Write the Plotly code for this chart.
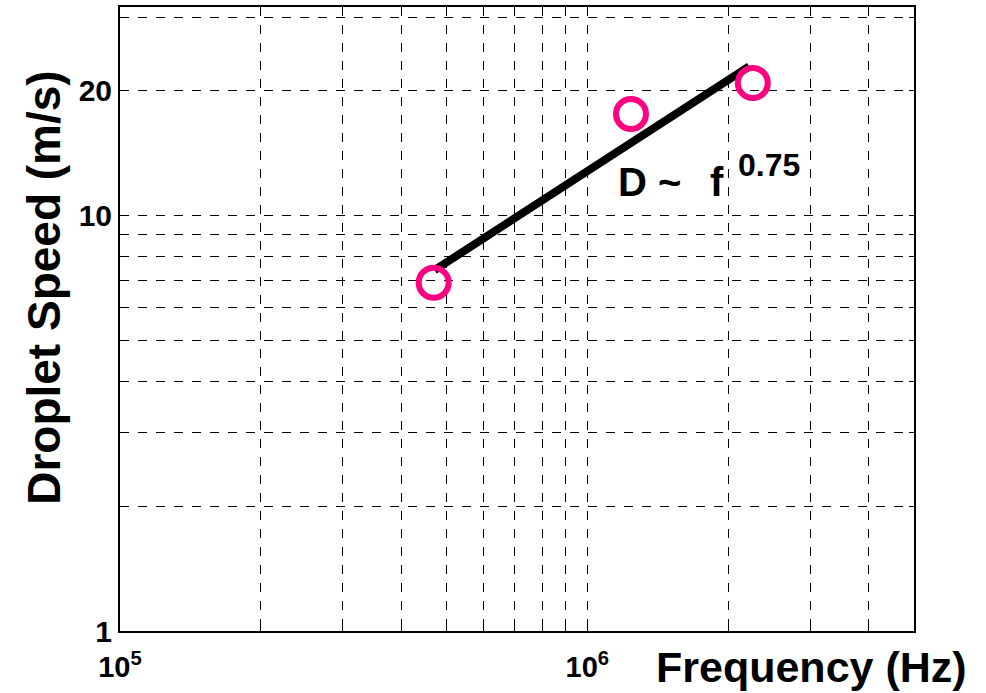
import plotly.graph_objects as go

# Data
freq = [4.69e5, 1.24e6, 2.26e6]
speed = [6.9, 17.6, 20.9]
fit_freq = [4.71e5, 2.22e6]
fit_speed = [7.4, 22.9]

x_grid = [1e5, 2e5, 3e5, 4e5, 5e5, 6e5, 7e5, 8e5, 9e5, 1e6, 2e6, 3e6, 4e6, 5e6]
x_labels = {1e5: "10<sup>5</sup>", 1e6: "10<sup>6</sup>"}
y_grid = [1, 2, 3, 4, 5, 6, 7, 8, 9, 10, 20, 30]
y_labels = {1: "1", 10: "10", 20: "20"}

FONT = "Liberation Sans, Arial, sans-serif"
PINK = "rgb(255,0,128)"

fig = go.Figure()
fig.add_trace(go.Scatter(x=fit_freq, y=fit_speed, mode="lines",
                         line=dict(color="black", width=8), showlegend=False))
fig.add_trace(go.Scatter(x=freq, y=speed, mode="markers",
                         marker=dict(symbol="circle-open", size=30, color=PINK,
                                     line=dict(width=6, color=PINK)),
                         showlegend=False))

fig.update_xaxes(type="log", range=[5, 6.699], tickmode="array",
                 tickvals=x_grid, ticktext=[x_labels.get(v, "") for v in x_grid],
                 showgrid=True, gridcolor="black", griddash="dash", gridwidth=1,
                 showline=True, linecolor="black", linewidth=2, mirror="ticks",
                 ticks="inside", ticklen=5, tickcolor="black", ticklabelstandoff=9,
                 tickfont=dict(family=FONT, size=29, color="black", weight="bold"),
                 zeroline=False)
fig.update_yaxes(type="log", range=[0, 1.503], tickmode="array",
                 tickvals=y_grid, ticktext=[y_labels.get(v, "") for v in y_grid],
                 showgrid=True, gridcolor="black", griddash="dash", gridwidth=1,
                 showline=True, linecolor="black", linewidth=2, mirror="ticks",
                 ticks="inside", ticklen=5, tickcolor="black",
                 tickfont=dict(family=FONT, size=30, color="black", weight="bold"),
                 zeroline=False)

fig.add_annotation(x=-0.0957, xref="paper", xanchor="center", y=0.55, yref="paper",
                   yanchor="middle", text="<b>Droplet Speed (m/s)</b>", textangle=-90,
                   showarrow=False, font=dict(family=FONT, size=46, color="black"))
fig.add_annotation(x=(811.5 - 120) / 794, xref="paper", xanchor="center",
                   y=-0.0575, yref="paper", yanchor="middle",
                   text="<b>Frequency (Hz)</b>", showarrow=False,
                   font=dict(family=FONT, size=43, color="black"))
fig.add_annotation(x=6.062, y=1.0813, text="<b>D ~</b>", showarrow=False,
                   xanchor="left", yanchor="middle",
                   font=dict(family=FONT, size=40, color="black"))
fig.add_annotation(x=6.297, y=1.0813, text="<b>f</b>", showarrow=False,
                   xanchor="right", yanchor="middle",
                   font=dict(family=FONT, size=40, color="black"))
fig.add_annotation(x=6.389, y=1.1232, text="<b>0.75</b>", showarrow=False,
                   xanchor="center", yanchor="middle",
                   font=dict(family=FONT, size=32, color="black"))

fig.update_layout(width=986, height=693, plot_bgcolor="white", paper_bgcolor="white",
                  margin=dict(l=120, r=72, t=5, b=62), showlegend=False)

fig.write_html("out.html")
